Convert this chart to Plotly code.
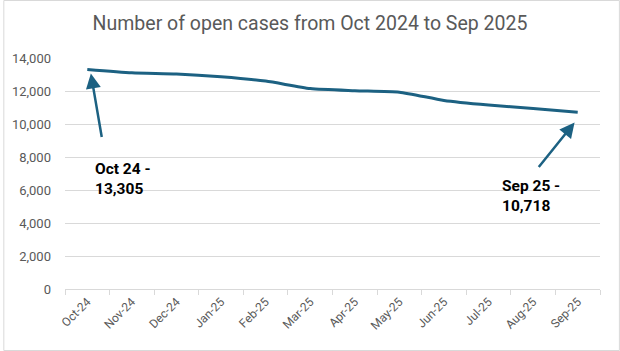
import plotly.graph_objects as go

months = ["Oct-24", "Nov-24", "Dec-24", "Jan-25", "Feb-25", "Mar-25",
          "Apr-25", "May-25", "Jun-25", "Jul-25", "Aug-25", "Sep-25"]
open_cases = [13305, 13100, 13030, 12860, 12600, 12150,
              12020, 11930, 11430, 11150, 10940, 10718]
y_ticks = [0, 2000, 4000, 6000, 8000, 10000, 12000, 14000]

LINE = "#1c6182"
GRAY = "#595959"
FONT = "Roboto, sans-serif"

fig = go.Figure()
fig.add_trace(go.Scatter(
    x=months, y=open_cases, mode="lines",
    line=dict(color=LINE, width=3, shape="spline", smoothing=0.6),
    hoverinfo="x+y", showlegend=False,
))

W, H = 620, 351
ml, mr, mt, mb = 62, 20, 58, 62

fig.update_layout(
    width=W, height=H,
    margin=dict(l=ml, r=mr, t=mt, b=mb),
    paper_bgcolor="white", plot_bgcolor="white",
    font=dict(family=FONT, color=GRAY, size=13),
    title=dict(text="Number of open cases from Oct 2024 to Sep 2025",
               x=0.5, xanchor="center", y=1 - 23 / H, yanchor="middle",
               yref="container", font=dict(size=19.5, color=GRAY, family=FONT)),
    xaxis=dict(type="category", categoryorder="array", categoryarray=months,
               tickson="boundaries", ticks="outside", ticklen=5,
               tickcolor="#d9d9d9", showline=True, linecolor="#d9d9d9",
               linewidth=1, showgrid=False, tickangle=-45,
               tickfont=dict(size=12, color=GRAY), range=[-0.5, 11.5]),
    yaxis=dict(range=[0, 14000], tickvals=y_ticks, tickformat=",d",
               showgrid=True, gridcolor="#d9d9d9", gridwidth=1,
               zeroline=False, showline=False, ticks="",
               tickfont=dict(size=13, color=GRAY), ticklabelstandoff=13),
)

pw = W - ml - mr
ph = H - mt - mb
fig.add_shape(type="rect", xref="paper", yref="paper",
              x0=-(ml - 0.5) / pw, x1=1 + (mr - 0.5) / pw,
              y0=-(mb - 0.5) / ph, y1=1 + (mt - 0.5) / ph,
              line=dict(color="#d9d9d9", width=1), layer="below")

# arrows
fig.add_annotation(x=0.08, y=13060, ax=0.33, ay=9120, xref="x", yref="y",
                   axref="x", ayref="y", text="", showarrow=True,
                   arrowhead=2, arrowsize=1.2, arrowwidth=2.5, arrowcolor=LINE)
fig.add_annotation(x=10.93, y=10090, ax=10.10, ay=7300, xref="x", yref="y",
                   axref="x", ayref="y", text="", showarrow=True,
                   arrowhead=2, arrowsize=1.2, arrowwidth=2.5, arrowcolor=LINE)

# labels
fig.add_annotation(x=0.12, y=7950, xref="x", yref="y", xanchor="left",
                   yanchor="top", align="left", showarrow=False,
                   text="<b>Oct 24 -<br>13,305</b>",
                   font=dict(size=15.5, color="black", family=FONT))
fig.add_annotation(x=9.26, y=6900, xref="x", yref="y", xanchor="left",
                   yanchor="top", align="left", showarrow=False,
                   text="<b>Sep 25 -<br>10,718</b>",
                   font=dict(size=15.5, color="black", family=FONT))

fig.write_html("out.html")
